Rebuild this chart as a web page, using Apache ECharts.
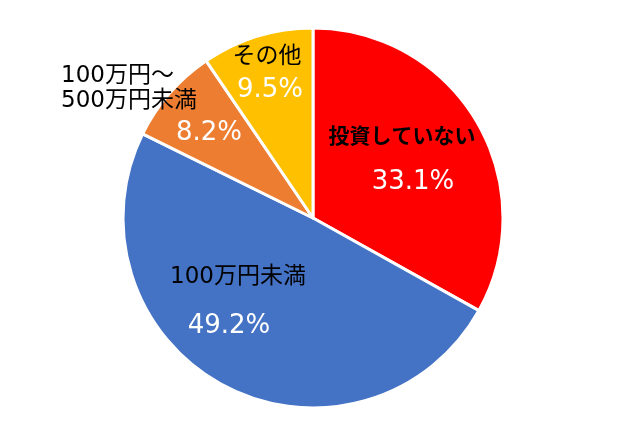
<!DOCTYPE html>
<html><head><meta charset="utf-8">
<script src="https://cdn.jsdelivr.net/npm/echarts@6/dist/echarts.min.js"></script>
<style>html,body{margin:0;padding:0;background:#fff}#c{width:624px;height:432px}</style>
</head><body><div id="c"></div>
<script>
const categories = ['投資していない', '100万円未満', '100万円～\n500万円未満', 'その他'];
const values = [33.1, 49.2, 8.2, 9.5];
const colors = ['#FF0000', '#4472C4', '#ED7D31', '#FFC000'];

// label anchor positions (layout only)
const pctPos = [[413, 182], [229, 326], [209, 133], [270, 90]];
const namePos = [[402, 138, 'center'], [238, 277, 'center'], [61, 89, 'left'], [267, 57, 'center']];

const FONT = 'DejaVu Sans, "Noto Sans CJK JP", sans-serif';
const chart = echarts.init(document.getElementById('c'), null, {renderer: 'canvas'});
const base = {
  type: 'pie', center: [313, 218], radius: 190, startAngle: 90, clockwise: true,
  animation: false, silent: true, avoidLabelOverlap: false, labelLine: {show: false}
};
chart.setOption({
  backgroundColor: '#fff',
  series: [
    Object.assign({}, base, {
      itemStyle: {borderColor: '#fff', borderWidth: 3},
      label: {show: true, position: 'inside', color: '#fff', fontFamily: FONT, fontSize: 26,
        formatter: p => p.value.toFixed(1) + '%'},
      labelLayout: p => ({x: pctPos[p.dataIndex][0], y: pctPos[p.dataIndex][1], align: 'center', verticalAlign: 'middle'}),
      data: categories.map((n, i) => ({name: n, value: values[i], itemStyle: {color: colors[i]}}))
    }),
    Object.assign({}, base, {
      itemStyle: {color: 'rgba(0,0,0,0)', borderWidth: 0},
      label: {show: true, position: 'inside', color: '#000', fontFamily: FONT, fontSize: 23, lineHeight: 25,
        formatter: p => p.name},
      labelLayout: p => ({x: namePos[p.dataIndex][0], y: namePos[p.dataIndex][1], align: namePos[p.dataIndex][2], verticalAlign: 'middle'}),
      data: categories.map((n, i) => ({name: n, value: values[i],
        label: i === 0 ? {fontWeight: 'bold', fontSize: 21} : {}}))
    })
  ]
});
</script></body></html>
